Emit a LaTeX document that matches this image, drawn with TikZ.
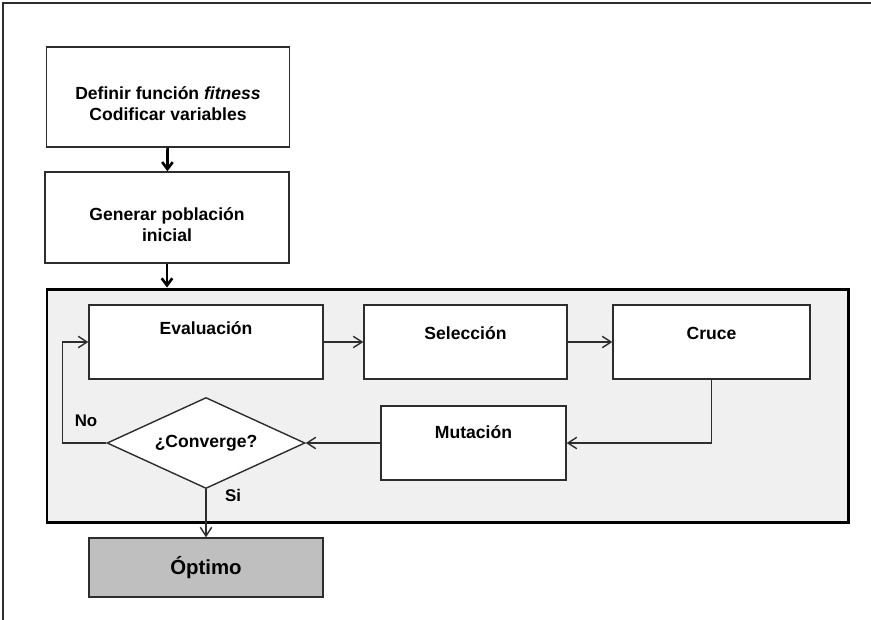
\documentclass[tikz,border=0pt]{standalone}
\usepackage{fontspec}
\setmainfont{Liberation Sans}
\usetikzlibrary{shapes.geometric, arrows.meta, positioning}
\definecolor{boxline}{RGB}{45,45,45}
\definecolor{panelgray}{RGB}{240,240,240}
\definecolor{optgray}{RGB}{191,191,191}
\tikzset{
  stepbox/.style={rectangle, draw=boxline, fill=white, line width=0.8pt,
    align=center, inner sep=0pt, font=\bfseries\fontsize{10}{12}\selectfont},
  topbox/.style={stepbox, text height=7pt, text depth=#1},
  topbox/.default=10.4pt,
  decision/.style={diamond, draw=boxline, fill=white, line width=0.8pt,
    aspect=2.2, inner sep=0pt, font=\bfseries\fontsize{10}{12}\selectfont},
  endbox/.style={stepbox, fill=optgray, font=\bfseries\fontsize{11.6}{14}\selectfont},
  panel/.style={rectangle, draw=black, fill=panelgray, line width=1.7pt},
  lbl/.style={font=\bfseries\fontsize{9.6}{11.5}\selectfont, inner sep=0pt},
  flow/.style={-{Straight Barb[length=5pt,width=6.5pt]}, line width=0.8pt, color=boxline},
  bigflow/.style={-{Straight Barb[length=4pt,width=6pt]}, line width=1.5pt, color=black}
}

\begin{document}
\begin{tikzpicture}[x=0.02cm, y=-0.02cm]
  \useasboundingbox (0,0) rectangle (871,619);
  \clip (0,0) rectangle (871,619);
  % outer frame
  \draw[line width=1.2pt, color=boxline] (3,3) rectangle (900,660);
  % set-up steps
  \node[stepbox, text height=27.3pt, text depth=0pt,
    minimum width=243*0.02cm, minimum height=100*0.02cm] (def) at (168,97)
    {Definir función \textit{fitness}\\Codificar variables};
  \node[stepbox, text height=27.8pt, text depth=0pt,
    minimum width=244*0.02cm, minimum height=91*0.02cm] (gen) at (167,217.5)
    {Generar población\\inicial};
  % main loop
  \node[panel, minimum width=801*0.02cm, minimum height=233*0.02cm] (loop) at (447.5,405.5) {};
  \node[topbox=16pt, minimum width=234*0.02cm, minimum height=74*0.02cm] (eval) at (206,342) {Evaluación};
  \node[topbox, minimum width=203*0.02cm, minimum height=74*0.02cm] (sel) at (465.5,342) {Selección};
  \node[topbox, minimum width=197*0.02cm, minimum height=74*0.02cm] (cruce) at (711.5,342) {Cruce};
  \node[topbox=11.6pt, minimum width=185*0.02cm, minimum height=74*0.02cm] (mut) at (473.5,443) {Mutación};
  \node[decision, minimum width=198*0.02cm, minimum height=91*0.02cm] (conv) at (206,443) {¿Converge?};
  \node[endbox, minimum width=234*0.02cm, minimum height=59*0.02cm] (opt) at (206,567.5) {Óptimo};
  \node[lbl] (no) at (86,421) {No};
  \node[lbl] (si) at (233,495) {Si};
  % connectors
  \draw[bigflow] (def) -- (gen);
  \draw[bigflow] (gen.south) -- (gen.south |- loop.north);
  \draw[flow] (eval) -- (sel);
  \draw[flow] (sel) -- (cruce);
  \draw[flow] (cruce.south) |- (mut.east);
  \draw[flow] (mut.west) -- (conv.east);
  \draw[flow] (conv.west) -- ++(-44,0) |- (eval.west);
  \draw[flow] (conv.south) -- (opt.north);
\end{tikzpicture}
\end{document}
